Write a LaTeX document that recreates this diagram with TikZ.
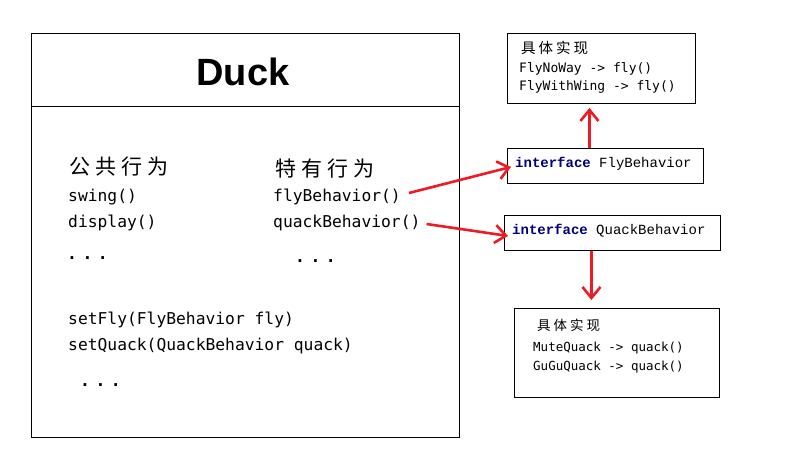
\documentclass[tikz,border=0pt]{standalone}
\usepackage{fontspec}
\setmainfont{Liberation Serif}
\newfontfamily\cjk{Noto Sans CJK SC}
\newfontfamily\dmono{DejaVu Sans Mono}
\newfontfamily\lmono{Liberation Mono}
\newfontfamily\titlefont{Liberation Sans}
\usetikzlibrary{arrows.meta}
\definecolor{paintred}{RGB}{237,28,36}
\definecolor{navyblue}{RGB}{0,0,128}
\tikzset{
  box/.style={draw=black, line width=0.9pt, anchor=north west, inner sep=0pt},
  txt/.style={anchor=west, inner sep=0pt, font=\dmono\fontsize{16.3}{19}\selectfont},
  cn/.style={anchor=west, inner sep=0pt, font=\cjk\fontsize{21}{24}\selectfont},
  small/.style={anchor=west, inner sep=0pt, font=\dmono\fontsize{13}{15}\selectfont},
  smaller/.style={anchor=west, inner sep=0pt, font=\dmono\fontsize{12.5}{15}\selectfont},
  iface/.style={anchor=west, inner sep=0pt, font=\lmono\fontsize{14}{16}\selectfont},
  redarrow/.style={draw=paintred, line width=2.6pt, -{Straight Barb[length=11pt,width=18pt,line width=2.6pt]}}
}
\begin{document}
\begin{tikzpicture}[x=1pt,y=-1pt]
\useasboundingbox (0,0) rectangle (790,474);
\fill[white] (0,0) rectangle (790,474);
% Duck class box
\node[box, minimum width=428pt, minimum height=404pt] (duck) at (31,33) {};
\coordinate (divL) at (31,106);
\coordinate (divR) at (459,106);
\draw[line width=0.9pt] (divL) -- (divR);
\node[inner sep=0pt, font=\titlefont\bfseries\fontsize{38}{42}\selectfont] (title) at (243,72) {Duck};
% left column
\node[cn] (pub) at (69,167) {公\hspace{5pt}共\hspace{5pt}行\hspace{5pt}为};
\node[txt] (swing) at (68,197) {swing()};
\node[txt] (display) at (68,223) {display()};
\node[txt] (dots1) at (67,258) {\bfseries.\hspace{5.5pt}.\hspace{5.5pt}.};
\node[txt] (setfly) at (68,320) {setFly(FlyBehavior fly)};
\node[txt] (setquack) at (68,346) {setQuack(QuackBehavior quack)};
\node[txt] (dots3) at (80,385) {\bfseries.\hspace{5.5pt}.\hspace{5.5pt}.};
% right column
\node[cn] (spec) at (275,169) {特\hspace{5pt}有\hspace{5pt}行\hspace{5pt}为};
\node[txt] (flyB) at (273,197) {flyBehavior()};
\node[txt] (quackB) at (273,223) {quackBehavior()};
\node[txt] (dots2) at (295,261) {\bfseries.\hspace{5.5pt}.\hspace{5.5pt}.};
% implementation box (fly)
\node[box, minimum width=188pt, minimum height=70pt] (implA) at (507,33) {};
\node[anchor=west, inner sep=0pt, font=\cjk\fontsize{14.5}{16}\selectfont] (implAt) at (521,48) {具\hspace{3pt}体\hspace{3pt}实\hspace{3pt}现};
\node[small] (flynoway) at (519,69) {FlyNoWay -> fly()};
\node[small] (flywing) at (519,87) {FlyWithWing -> fly()};
% interface FlyBehavior
\node[box, minimum width=196pt, minimum height=35pt] (ifly) at (507,148) {};
\node[iface] (iflyt) at (515,164) {\textcolor{navyblue}{\bfseries interface} FlyBehavior};
% interface QuackBehavior
\node[box, minimum width=216pt, minimum height=35pt] (iquack) at (504,215) {};
\node[iface] (iquackt) at (512,231) {\textcolor{navyblue}{\bfseries interface} QuackBehavior};
% implementation box (quack)
\node[box, minimum width=205pt, minimum height=89pt] (implD) at (514,308) {};
\node[anchor=west, inner sep=0pt, font=\cjk\fontsize{13.5}{15}\selectfont] (implDt) at (537,325) {具\hspace{3pt}体\hspace{3pt}实\hspace{3pt}现};
\node[smaller] (mute) at (533,348) {MuteQuack -> quack()};
\node[smaller] (gugu) at (533,367) {GuGuQuack -> quack()};
% arrows
\draw[redarrow] ([xshift=8pt,yshift=4pt]flyB.east) -- ([xshift=4pt,yshift=-1pt]ifly.west);
\draw[redarrow] ([xshift=6pt,yshift=-1pt]quackB.east) -- ([xshift=4pt,yshift=-3pt]iquack.west);
\draw[redarrow] ([xshift=-16pt]ifly.north) -- ([xshift=-16pt,yshift=-4pt]implA.south -| ifly.north);
\draw[redarrow] ([xshift=-21pt]iquack.south) -- ([xshift=-21pt,yshift=8pt]implD.north -| iquack.south);
\end{tikzpicture}
\end{document}
